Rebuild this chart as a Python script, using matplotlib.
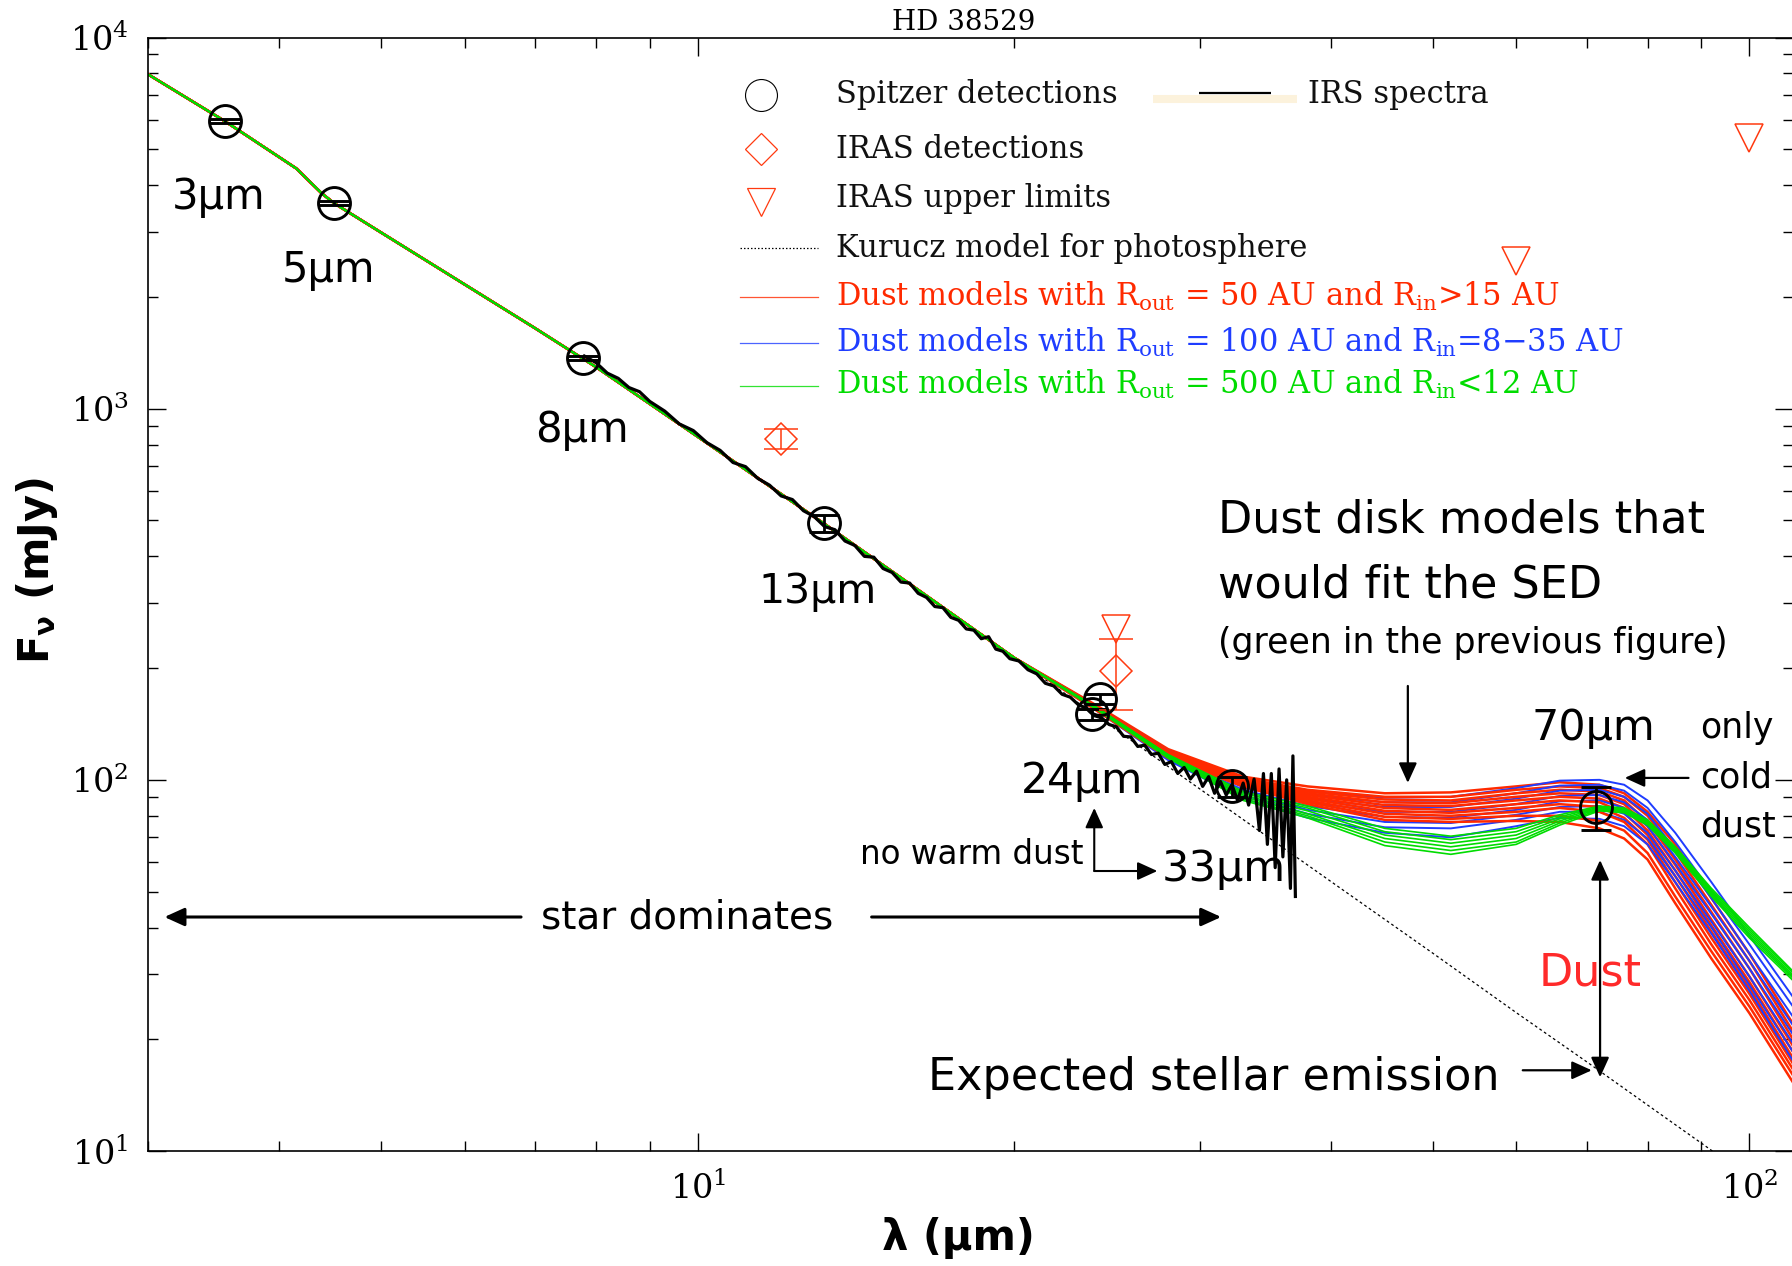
import matplotlib
matplotlib.use("Agg")
import matplotlib.pyplot as plt
from matplotlib.ticker import NullFormatter

plt.rcParams['font.family'] = ['DejaVu Serif']
plt.rcParams['mathtext.fontset'] = 'dejavuserif'

# ---------------- data ----------------
PHOT_LAM = [3.0, 3.55, 4.15, 4.39, 4.51, 5.0, 6.0, 7.0, 8.0, 10.0, 13.17, 16.0, 20.0,
            24.0, 30.0, 40.0, 50.0, 60.0, 70.0, 80.0, 90.0, 110.0]
PHOT_F = [7960, 5950, 4440, 3800, 3575, 2980, 2162, 1648, 1295, 840, 491, 333, 213,
          148, 94.6, 53.2, 34.1, 23.6, 17.4, 13.3, 10.5, 7.0]

IRS_LAM = [7.8, 8.0, 8.2, 8.4, 8.6, 8.8, 9.0, 9.3, 9.6, 9.9, 10.2, 10.5, 10.8, 11.1, 11.4,
           11.7, 12.0, 12.3, 12.6, 12.9, 13.2, 13.5, 13.8, 14.1, 14.4, 14.7, 15.0, 15.3,
           15.6, 15.9, 16.2, 16.5, 16.8, 17.1, 17.4, 17.7, 18.0, 18.3, 18.6, 18.9, 19.2,
           19.5, 19.8, 20.2, 20.6, 21.0, 21.4, 21.8, 22.2, 22.6, 23.0, 23.4, 23.8, 24.2,
           24.6, 25.0, 25.4, 25.8, 26.2, 26.6, 27.0, 27.4, 27.8, 28.2, 28.6, 29.0, 29.4,
           29.8, 30.2, 30.6, 31.0, 31.4, 31.8, 32.2, 32.6, 33.0, 33.4, 33.8, 34.2, 34.5,
           34.8, 35.1, 35.4, 35.7, 36.0, 36.3, 36.6, 36.8, 37.0]
IRS_F = [1386, 1331, 1247, 1207, 1140, 1111, 1046, 985, 910, 873, 810, 772, 716, 698, 649,
         622, 582, 569, 531, 512, 481, 472, 440, 428, 400, 398, 371, 362,
         341, 339, 318, 310, 293, 291, 274, 269, 255, 253, 240, 243, 225,
         222, 212, 209, 198, 193, 182, 179, 170, 167, 159.4, 156, 149, 147,
         141, 139, 131, 130.5, 123, 124, 117, 118, 110, 112, 104, 108, 100.5,
         105.5, 96, 102, 92, 99, 91, 97, 88, 98, 85.5, 100.5, 73, 104,
         67, 104, 58, 107, 62, 100, 51, 116, 48.5]

SPITZER_LAM = [3.55, 4.51, 7.77, 13.17, 23.7, 24.1, 32.2, 71.5]
SPITZER_F = [5954, 3573, 1372, 491, 150, 165, 96, 84.6]
SPITZER_ERR = [75, 45, 17, 25, 5, 5, 6, 11.3]

IRAS_LAM = [12.0, 25.0]
IRAS_F = [829, 197]
IRAS_ERR = [50, 43]

IRAS_UL_LAM = [25.0, 60.0, 100.0]
IRAS_UL_F = [255, 2506, 5367]

MODEL_LAM = [24, 28, 33, 38, 45, 52, 60, 66, 72, 76, 80, 85, 92, 100, 110]
RED_MODELS = [
    [158, 121, 102, 96, 92, 92.5, 96, 98.5, 97, 92, 82, 67, 48, 34, 22],
    [157, 120, 101, 94, 90, 90, 94, 96, 95, 90, 80, 64, 46, 32.5, 21],
    [157, 119, 100.5, 93, 88.5, 88, 92, 94, 93, 88, 77, 61, 44, 31, 20],
    [156, 118, 100, 92, 87, 86.5, 90, 92, 91, 86, 75, 59, 42, 29.5, 19.2],
    [156, 118, 99, 91, 85.5, 85, 88, 90, 89, 84, 73, 57, 40.5, 28.5, 18.5],
    [155, 117, 98.5, 90, 84, 83, 86, 88, 87, 81.5, 71, 55, 39, 27.5, 17.8],
    [155, 116.5, 98, 89, 82.5, 81.5, 84, 86, 84.5, 79, 69, 53, 37.5, 26.5, 17.2],
    [154, 116, 97, 88, 81, 80, 82, 84, 82, 77, 67, 51, 36, 25.5, 16.6],
    [154, 115, 96.5, 87, 79.5, 78.5, 80, 80, 77.5, 73, 63.5, 48.5, 34.5, 24.5, 16],
    [153, 114.5, 96, 86, 78, 77, 77.5, 77, 74, 69.5, 61, 46.5, 33, 23.5, 15.3],
]
BLUE_MODELS = [
    [157, 120, 100, 93, 89.5, 90, 95, 99.5, 100, 97, 88, 72, 53, 38, 26],
    [156, 119, 98.5, 91, 87, 87, 92, 96.5, 97, 93.5, 84, 68, 50, 36, 24.5],
    [156, 118, 97, 89, 84.5, 84.5, 89, 93.5, 94, 90, 81, 65, 48, 34, 23],
    [155, 117, 95.5, 87, 82, 82, 86, 90.5, 91, 87, 78, 62, 45.5, 32.5, 21.8],
    [155, 116, 94, 85, 79.5, 79, 83, 87.5, 88, 84, 75, 59.5, 43.5, 31, 20.6],
    [154, 115, 92.5, 83, 77, 76.5, 80.5, 84.5, 85, 81, 72, 57, 41.5, 29.5, 19.5],
    [154, 114, 91, 81, 74.5, 74, 78, 82, 82, 78, 69.5, 55, 40, 28, 18.5],
    [153, 113, 89, 79, 72, 70, 75, 79, 78.5, 75, 67, 53, 38.5, 27, 17.5],
]
GREEN_MODELS = [
    [156, 117, 93, 85, 74, 70.5, 74, 80.5, 85, 84, 78, 66, 51, 40, 30.5],
    [156, 116.5, 92, 84, 72.5, 69, 72.5, 79.5, 84.5, 83.5, 77.5, 65.5, 50.5, 39.5, 30.2],
    [155, 116, 91, 82.5, 71, 67.5, 71, 78.5, 84, 83, 77, 65, 50, 39, 29.8],
    [155, 115.5, 90, 81, 69.5, 66, 69.5, 77.5, 83.5, 82.5, 76.5, 64.5, 49.5, 38.5, 29.5],
    [155, 115, 89, 80, 68, 64.5, 68, 76.5, 83, 82, 76, 64, 49, 38, 29.2],
    [154, 114.5, 88, 79, 66.5, 63, 67, 75.5, 82.5, 81.5, 75.5, 63.5, 48.5, 37.5, 28.8],
]

LEGEND_LABELS = [
    "Spitzer detections",
    "IRAS detections",
    "IRAS upper limits",
    "Kurucz model for photosphere",
    r"Dust models with R$_{\rm out}$ = 50 AU and R$_{\rm in}$>15 AU",
    r"Dust models with R$_{\rm out}$ = 100 AU and R$_{\rm in}$=8$-$35 AU",
    r"Dust models with R$_{\rm out}$ = 500 AU and R$_{\rm in}$<12 AU",
]
IRS_LABEL = "IRS spectra"

RED = '#ff2a00'
BLUE = '#1f3dff'
GREEN = '#00dc00'
IRAS_RED = '#ff3a10'

# ---------------- figure ----------------
W, H = 1792, 1266
fig = plt.figure(figsize=(W / 100, H / 100), dpi=100)
ax = fig.add_axes([148 / W, 1 - 1151 / H, 1645 / W, 1113.5 / H])
ax.set_xscale('log')
ax.set_yscale('log')
ax.set_xlim(3, 110)
ax.set_ylim(10, 1e4)

# photosphere
ax.plot(PHOT_LAM, PHOT_F, color='black', lw=0.9, ls=(0, (2.2, 2.2)), zorder=1)

# dust models: photospheric part up to 20 um, then model values
short_lam = [l for l in PHOT_LAM if l <= 20]
short_f = [f for l, f in zip(PHOT_LAM, PHOT_F) if l <= 20]
n = max(len(RED_MODELS), len(BLUE_MODELS))
for i in range(n):
    if i < len(RED_MODELS):
        ax.plot(short_lam + MODEL_LAM, short_f + RED_MODELS[i], color=RED, lw=1.8, zorder=2)
    if i < len(BLUE_MODELS):
        ax.plot(short_lam + MODEL_LAM, short_f + BLUE_MODELS[i], color=BLUE, lw=1.4, zorder=2)
for g in GREEN_MODELS:
    ax.plot(short_lam + MODEL_LAM, short_f + g, color=GREEN, lw=1.2, zorder=2.5)

# IRS spectrum
ax.plot(IRS_LAM, IRS_F, color='black', lw=2.3, zorder=3, solid_joinstyle='round')

# Spitzer photometry
ax.errorbar(SPITZER_LAM, SPITZER_F, yerr=SPITZER_ERR, fmt='o', ms=23, mfc='none',
            mec='black', mew=2.1, ecolor='black', elinewidth=2.0, capsize=11,
            capthick=2.0, zorder=5)

# IRAS detections
ax.errorbar(IRAS_LAM, IRAS_F, yerr=IRAS_ERR, fmt='D', ms=16.5, mfc='none',
            mec=IRAS_RED, mew=1.1, ecolor=IRAS_RED, elinewidth=1.1, capsize=12,
            capthick=1.1, zorder=5)
# IRAS upper limits
ax.plot(IRAS_UL_LAM, IRAS_UL_F, 'v', ms=20, mfc='none', mec=IRAS_RED, mew=1.1, zorder=5)

# ---------------- axes styling ----------------
for s in ax.spines.values():
    s.set_linewidth(1.2)
ax.tick_params(which='both', direction='in', top=True, right=True, colors='black')
ax.tick_params(which='major', length=13, width=1.0, labelsize=24)
ax.tick_params(which='minor', length=7.2, width=1.0)
ax.tick_params(axis='x', which='major', pad=15)
ax.tick_params(axis='y', which='major', pad=14)
ax.xaxis.set_minor_formatter(NullFormatter())
ax.yaxis.set_minor_formatter(NullFormatter())

ax.set_xlabel('λ (µm)', fontsize=30, fontweight='bold', family='DejaVu Sans')
ax.xaxis.set_label_coords(0.4924, -0.059)
ax.set_ylabel(r'F$_\mathbf{\nu}$ (mJy)', fontsize=30, fontweight='bold',
              family='DejaVu Sans', math_fontfamily='dejavusans')
ax.yaxis.set_label_coords(-0.0535, 0.521)

fig.text(0.538, 1 - 30 / H, 'HD 38529', ha='center', va='baseline', fontsize=20,
         family='DejaVu Serif')

# ---------------- legend (manual) ----------------
T = ax.transAxes
KEY_X = 0.3726
LINE_X = [0.3599, 0.4073]
TEXT_X = 0.4182
base_y = [0.9412, 0.8915, 0.8480, 0.8031, 0.7591, 0.7178, 0.6796]
text_colors = ['#111111', '#111111', '#111111', '#111111', RED, BLUE, GREEN]
for y, lab, c in zip(base_y, LEGEND_LABELS, text_colors):
    ax.text(TEXT_X, y, lab, transform=T, fontsize=22, color=c, va='baseline',
            ha='left', family='DejaVu Serif', zorder=7)
ax.plot([KEY_X], [0.9484], 'o', ms=23, mfc='none', mec='black', mew=0.8,
        transform=T, clip_on=False, zorder=7)
ax.plot([KEY_X], [0.8999], 'D', ms=16.5, mfc='none', mec=IRAS_RED, mew=0.9,
        transform=T, clip_on=False, zorder=7)
ax.plot([KEY_X], [0.8523], 'v', ms=20, mfc='none', mec=IRAS_RED, mew=0.9,
        transform=T, clip_on=False, zorder=7)
ax.plot(LINE_X, [0.8110, 0.8110], color='black', lw=0.9, ls=(0, (1.2, 1.6)),
        transform=T, zorder=7)
for y, c in zip([0.7670, 0.7256, 0.6870], [RED, BLUE, GREEN]):
    ax.plot(LINE_X, [y, y], color=c, lw=0.9, alpha=0.8, transform=T, zorder=7)
ax.plot([0.6109, 0.6985], [0.9449, 0.9449], color='#fcf2dc', lw=5.8,
        solid_capstyle='butt', transform=T, zorder=6)
ax.plot([0.6389, 0.6827], [0.9501, 0.9501], color='black', lw=1.6,
        solid_capstyle='butt', transform=T, zorder=7)
ax.text(0.7052, base_y[0], IRS_LABEL, transform=T, fontsize=22, color='#111111',
        va='baseline', ha='left', family='DejaVu Serif', zorder=7)

# ---------------- annotations ----------------
AF = 'DejaVu Sans'
def note(x, y, s, size, ha='center', color='black'):
    ax.text(x, y, s, fontsize=size, ha=ha, va='center', family=AF, color=color, zorder=8)

note(3.50, 3718, '3µm', 30)
note(4.45, 2364, '5µm', 30)
note(7.75, 876, '8µm', 30)
note(13.0, 321, '13µm', 29.5)
note(23.2, 99.3, '24µm', 30.5)
note(31.6, 57.5, '33µm', 31)
note(71.1, 138, '70µm', 31)
note(89.7, 138, 'only', 25, ha='left')
note(89.7, 101.2, 'cold', 25, ha='left')
note(89.7, 74.7, 'dust', 25, ha='left')
note(18.2, 62.8, 'no warm dust', 23.5)
note(9.76, 42.7, 'star dominates', 28)
note(31.25, 501, 'Dust disk models that', 32, ha='left')
note(31.25, 335, 'would fit the SED', 32, ha='left')
note(31.25, 234, '(green in the previous figure)', 25, ha='left')
note(70.5, 30.2, 'Dust', 32, color='#ff2a2a')
note(30.97, 15.8, 'Expected stellar emission', 32)

def arrow(xy_from, xy_to, lw=2.2, style='-|>', hl=0.55, hw=0.25):
    ax.annotate('', xy=xy_to, xytext=xy_from,
                arrowprops=dict(arrowstyle=f'{style},head_length={hl},head_width={hw}',
                                lw=lw, color='black', shrinkA=0, shrinkB=0,
                                mutation_scale=22), zorder=8)

arrow((6.79, 42.7), (3.11, 42.7))
arrow((14.63, 42.7), (31.45, 42.7))
arrow((23.82, 56.8), (23.82, 84.0), lw=1.5)
arrow((23.82, 56.8), (27.35, 56.8), lw=1.5)
arrow((47.33, 179), (47.33, 98.1), lw=1.6)
arrow((87.5, 101.2), (76.1, 101.2), lw=1.6)
arrow((72.1, 60.8), (72.1, 15.8), lw=1.6, style='<|-|>')
arrow((60.87, 16.5), (70.8, 16.5), lw=1.6)

fig.savefig('out.png', dpi=100)
